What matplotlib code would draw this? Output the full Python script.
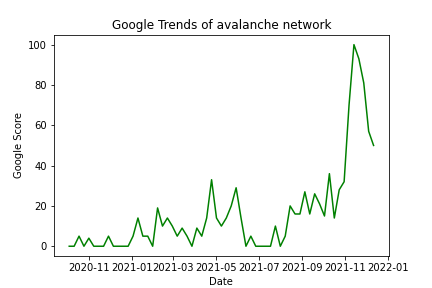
import matplotlib
matplotlib.use("Agg")
import matplotlib.pyplot as plt
import pandas as pd

# weekly google trends values
start_week = "2020-10-04"
n_weeks = 63
scores = [0, 0, 5, 0, 4, 0, 0, 0, 5, 0, 0, 0, 0,
          5, 14, 5, 5, 0, 19, 10, 14, 10, 5, 9, 5, 0,
          9, 5, 14, 33, 14, 10, 14, 20, 29, 14, 0, 5, 0,
          0, 0, 0, 10, 0, 5, 20, 16, 16, 27, 16, 26, 21,
          15, 36, 14, 28, 32, 70, 100, 93, 81, 57, 50]

dates = pd.date_range(start_week, periods=n_weeks, freq="7D")

fig, ax = plt.subplots(figsize=(6, 4), dpi=72)
ax.plot(dates, scores, color="green")
ax.set(xlabel="Date", ylabel="Google Score", title="Google Trends of avalanche network")

plt.savefig("out.png")
plt.close()
